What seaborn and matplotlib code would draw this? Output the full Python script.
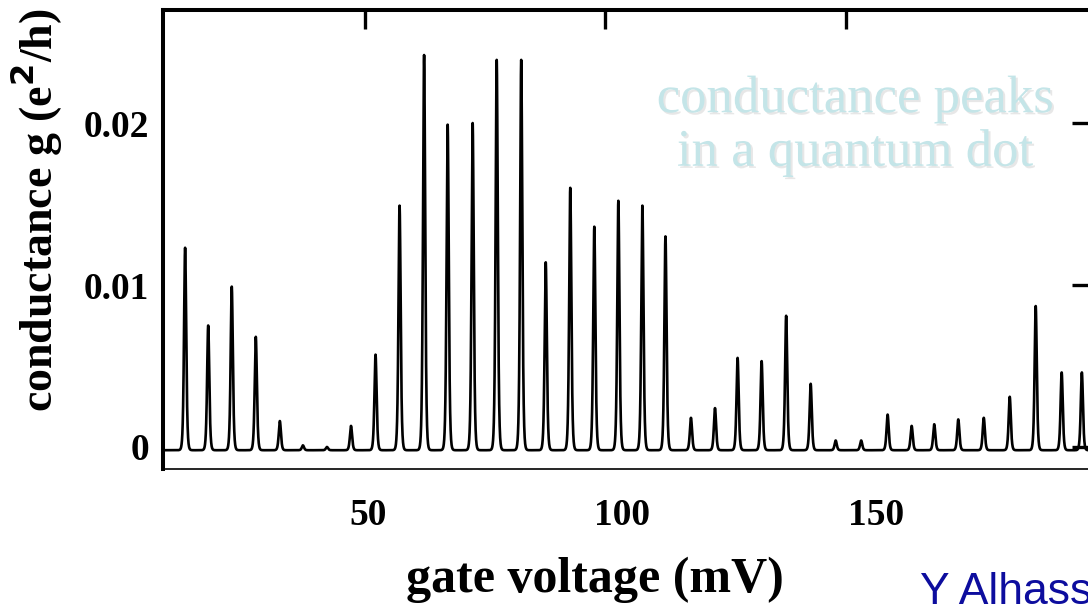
import numpy as np
import pandas as pd
import matplotlib
matplotlib.use("Agg")
import matplotlib.pyplot as plt
import matplotlib.transforms as mtransforms
import matplotlib.patheffects as pe
import seaborn as sns

# peak positions (mV) and peak heights (e^2/h)
peak_pos = [12.6, 17.4, 22.3, 27.3, 32.3, 37.1, 42.1, 47.1, 52.2, 57.2,
            62.3, 67.2, 72.4, 77.4, 82.5, 87.6, 92.7, 97.7, 102.7, 107.7,
            112.5, 117.8, 122.8, 127.5, 132.5, 137.6, 142.7, 147.9, 153.2,
            158.7, 163.7, 168.4, 173.4, 178.7, 184.1, 189.5, 194.9, 199.1]
peak_height = [0.0125, 0.0077, 0.0101, 0.0070, 0.0018, 0.0003, 0.0002, 0.0015,
               0.0059, 0.0151, 0.0244, 0.0201, 0.0202, 0.0241, 0.0241, 0.0116,
               0.0162, 0.0138, 0.0154, 0.0151, 0.0132, 0.0020, 0.0026, 0.0057,
               0.0055, 0.0083, 0.0041, 0.0006, 0.0006, 0.0022, 0.0015, 0.0016,
               0.0019, 0.0020, 0.0033, 0.0089, 0.0048, 0.0048]
baseline = -0.0002
peak_width = 0.3  # mV

x_ticks = [50, 100, 150]
y_ticks = [0, 0.01, 0.02]
y_ticklabels = ["0", "0.01", "0.02"]

# build the trace from the peaks (cosh^-2 line shape)
v = np.arange(8.0, 201.0, 0.02)
g = np.full_like(v, baseline)
for p, h in zip(peak_pos, peak_height):
    g += h / np.cosh((v - p) / peak_width) ** 2
df = pd.DataFrame({"gate voltage": v, "g": g})

sns.set_style("white")
plt.rcParams["font.family"] = ["Liberation Serif", "DejaVu Serif"]
plt.rcParams["text.color"] = "black"
plt.rcParams["xtick.color"] = "black"
plt.rcParams["ytick.color"] = "black"

fig = plt.figure(figsize=(10.88, 6.08), dpi=100)
ax = fig.add_axes([163 / 1088, 1 - 469 / 608, 928 / 1088, 459 / 608])

sns.lineplot(data=df, x="gate voltage", y="g", ax=ax, color="black",
             linewidth=1.9, estimator=None, sort=False)

ax.set_xlim(8.0, 201.0)
ax.set_ylim(-0.00136, 0.02698)

for side in ["left", "top"]:
    ax.spines[side].set_linewidth(2.9)
ax.spines["bottom"].set_linewidth(1.2)
ax.spines["right"].set_visible(False)
for s in ax.spines.values():
    s.set_color("black")

ax.set_xticks(x_ticks)
ax.set_xticklabels([str(t) for t in x_ticks])
ax.set_yticks(y_ticks)
ax.set_yticklabels(y_ticklabels)
ax.tick_params(axis="both", direction="in", length=14, width=2.4,
               top=True, right=True, labelsize=27, colors="black")
ax.tick_params(axis="x", pad=21)
ax.tick_params(axis="y", pad=10)
for lab in ax.get_xticklabels() + ax.get_yticklabels():
    lab.set_fontweight("bold")

# labels in the reference drift right of their ticks
for lab, dx in zip(ax.get_xticklabels(), [3, 17, 30]):
    lab.set_transform(lab.get_transform() +
                      mtransforms.ScaledTranslation(dx / 100, 0, fig.dpi_scale_trans))

ax.set_xlabel("")
ax.set_ylabel("")
fig.text(595 / 1088, 1 - 580 / 608, "gate voltage (mV)", fontsize=36,
         fontweight="bold", ha="center", va="center")
fig.text(36 / 1088, 1 - 210 / 608, "conductance g (e$^{\\mathbf{2}}$/h)", fontsize=33,
         fontweight="bold", ha="center", va="center", rotation=90)

ax.text(855 / 1088, 1 - 126 / 608, "conductance peaks\nin a quantum dot",
        transform=fig.transFigure, fontsize=38, color="#c4e5e8",
        ha="center", va="center", linespacing=1.15,
        path_effects=[pe.withSimplePatchShadow(offset=(1.5, -1.5),
                                               shadow_rgbFace="#d8d8d8", alpha=0.6)])

# credit line runs off the right edge, as in the reference
fig.text(920 / 1088, 1 - 604 / 608, "Y Alhassid", fontsize=32,
         fontfamily="Liberation Sans", color="#0d0d9e", ha="left", va="baseline")

fig.savefig("out.png", dpi=100)
